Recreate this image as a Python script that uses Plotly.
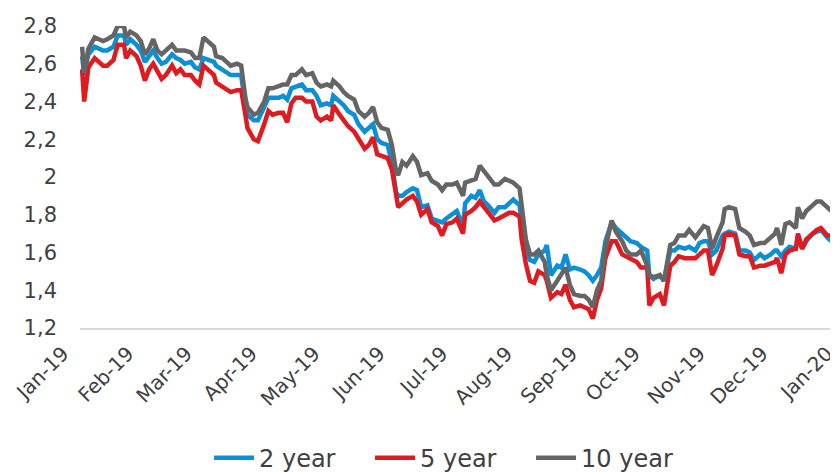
import plotly.graph_objects as go

# values (yield, %)
dates = [
    "2019-01-02", "2019-01-03", "2019-01-05", "2019-01-08", "2019-01-10", "2019-01-12", "2019-01-14",
    "2019-01-17", "2019-01-19", "2019-01-22", "2019-01-23", "2019-01-25", "2019-01-28", "2019-01-30",
    "2019-02-01", "2019-02-03", "2019-02-05", "2019-02-07", "2019-02-09", "2019-02-11", "2019-02-14",
    "2019-02-16", "2019-02-18", "2019-02-20", "2019-02-23", "2019-02-25", "2019-02-27",
    "2019-03-01", "2019-03-03", "2019-03-06", "2019-03-07", "2019-03-10", "2019-03-12", "2019-03-14",
    "2019-03-17", "2019-03-19", "2019-03-21", "2019-03-22", "2019-03-25", "2019-03-27", "2019-03-30",
    "2019-04-01", "2019-04-03", "2019-04-06", "2019-04-08", "2019-04-10", "2019-04-12", "2019-04-14",
    "2019-04-17", "2019-04-19", "2019-04-22", "2019-04-24", "2019-04-26", "2019-04-29",
    "2019-05-01", "2019-05-02", "2019-05-05", "2019-05-07", "2019-05-09", "2019-05-12", "2019-05-14",
    "2019-05-17", "2019-05-19", "2019-05-21", "2019-05-23", "2019-05-25", "2019-05-28", "2019-05-30",
    "2019-06-01", "2019-06-02", "2019-06-04", "2019-06-06", "2019-06-09", "2019-06-11", "2019-06-13",
    "2019-06-16", "2019-06-18", "2019-06-21", "2019-06-23", "2019-06-25", "2019-06-28", "2019-06-30",
    "2019-07-03", "2019-07-04", "2019-07-07", "2019-07-09", "2019-07-11", "2019-07-13", "2019-07-15",
    "2019-07-18", "2019-07-20", "2019-07-23", "2019-07-25", "2019-07-27", "2019-07-30", "2019-07-31",
    "2019-08-02", "2019-08-04", "2019-08-06", "2019-08-08", "2019-08-11", "2019-08-12", "2019-08-14",
    "2019-08-17", "2019-08-19", "2019-08-21", "2019-08-23", "2019-08-25", "2019-08-28", "2019-08-30",
    "2019-09-01", "2019-09-03", "2019-09-05", "2019-09-07", "2019-09-09", "2019-09-12", "2019-09-14",
    "2019-09-17", "2019-09-19", "2019-09-21", "2019-09-24", "2019-09-26", "2019-09-29", "2019-09-30",
    "2019-10-02", "2019-10-05", "2019-10-07", "2019-10-10", "2019-10-12", "2019-10-14", "2019-10-17",
    "2019-10-19", "2019-10-22", "2019-10-24", "2019-10-26", "2019-10-28", "2019-10-30",
    "2019-11-01", "2019-11-04", "2019-11-05", "2019-11-07", "2019-11-10", "2019-11-12", "2019-11-15",
    "2019-11-17", "2019-11-19", "2019-11-22", "2019-11-24", "2019-11-27", "2019-11-29", "2019-11-30",
    "2019-12-02", "2019-12-04", "2019-12-06", "2019-12-09", "2019-12-10", "2019-12-12", "2019-12-14",
    "2019-12-17", "2019-12-19", "2019-12-21", "2019-12-24", "2019-12-26", "2019-12-28", "2019-12-29",
    "2019-12-30", "2019-12-31",
]

y2 = [
    2.64, 2.54, 2.65, 2.69, 2.68, 2.67, 2.67, 2.69, 2.75, 2.75, 2.70, 2.73, 2.70, 2.67,
    2.61, 2.64, 2.67, 2.63, 2.60, 2.61, 2.65, 2.63, 2.62, 2.60, 2.61, 2.58, 2.57,
    2.63, 2.62, 2.61, 2.59, 2.57, 2.55, 2.54, 2.54, 2.54, 2.38, 2.33, 2.30, 2.30, 2.37,
    2.42, 2.42, 2.42, 2.43, 2.41, 2.47, 2.48, 2.49, 2.46, 2.46, 2.43, 2.38, 2.39,
    2.38, 2.43, 2.40, 2.38, 2.35, 2.33, 2.28, 2.24, 2.26, 2.28, 2.20, 2.18, 2.17, 2.07,
    1.92, 1.90, 1.90, 1.92, 1.94, 1.93, 1.84, 1.85, 1.78, 1.77, 1.76, 1.78, 1.80, 1.82,
    1.74, 1.86, 1.90, 1.89, 1.93, 1.87, 1.85, 1.81, 1.84, 1.84, 1.86, 1.88, 1.85, 1.74,
    1.61, 1.56, 1.55, 1.59, 1.61, 1.64, 1.48, 1.53, 1.52, 1.59, 1.51, 1.52, 1.51, 1.50,
    1.48, 1.45, 1.48, 1.52, 1.66, 1.76, 1.73, 1.70, 1.68, 1.66, 1.65, 1.63, 1.61, 1.48,
    1.46, 1.48, 1.45, 1.61, 1.61, 1.63, 1.62, 1.63, 1.61, 1.65, 1.66, 1.66, 1.59,
    1.61, 1.69, 1.70, 1.71, 1.70, 1.61, 1.61, 1.60, 1.56, 1.59, 1.57, 1.59, 1.61, 1.61,
    1.58, 1.61, 1.63, 1.62, 1.69, 1.62, 1.66, 1.70, 1.71, 1.72, 1.68, 1.66, 1.67, 1.71,
    1.62, 1.60,
]

y5 = [
    2.57, 2.40, 2.58, 2.63, 2.61, 2.59, 2.59, 2.62, 2.70, 2.70, 2.63, 2.67, 2.64, 2.59,
    2.51, 2.57, 2.60, 2.56, 2.52, 2.54, 2.59, 2.55, 2.57, 2.54, 2.54, 2.51, 2.49,
    2.59, 2.57, 2.54, 2.50, 2.48, 2.47, 2.45, 2.46, 2.46, 2.33, 2.26, 2.20, 2.19, 2.28,
    2.35, 2.33, 2.34, 2.34, 2.29, 2.39, 2.42, 2.42, 2.40, 2.40, 2.32, 2.30, 2.32,
    2.30, 2.38, 2.33, 2.30, 2.27, 2.24, 2.20, 2.15, 2.17, 2.21, 2.12, 2.11, 2.10, 2.04,
    1.89, 1.84, 1.86, 1.88, 1.90, 1.87, 1.80, 1.83, 1.76, 1.74, 1.69, 1.75, 1.76, 1.78,
    1.70, 1.80, 1.82, 1.84, 1.87, 1.84, 1.82, 1.77, 1.78, 1.80, 1.81, 1.81, 1.79, 1.67,
    1.54, 1.45, 1.44, 1.50, 1.48, 1.45, 1.36, 1.39, 1.38, 1.43, 1.35, 1.31, 1.32, 1.31,
    1.30, 1.25, 1.35, 1.41, 1.57, 1.66, 1.66, 1.59, 1.58, 1.57, 1.55, 1.52, 1.52, 1.32,
    1.36, 1.38, 1.32, 1.53, 1.55, 1.58, 1.57, 1.57, 1.57, 1.59, 1.61, 1.61, 1.48,
    1.53, 1.62, 1.69, 1.70, 1.69, 1.59, 1.58, 1.58, 1.52, 1.53, 1.53, 1.54, 1.55, 1.57,
    1.49, 1.59, 1.61, 1.62, 1.70, 1.62, 1.67, 1.70, 1.72, 1.73, 1.69, 1.69, 1.69, 1.72,
    1.61, 1.59,
]

y10 = [
    2.69, 2.55, 2.68, 2.74, 2.73, 2.72, 2.73, 2.75, 2.80, 2.80, 2.74, 2.77, 2.75, 2.72,
    2.65, 2.68, 2.73, 2.67, 2.65, 2.67, 2.70, 2.67, 2.67, 2.67, 2.66, 2.63, 2.63,
    2.74, 2.72, 2.69, 2.64, 2.63, 2.61, 2.59, 2.60, 2.59, 2.42, 2.37, 2.33, 2.34, 2.40,
    2.47, 2.47, 2.48, 2.49, 2.49, 2.54, 2.54, 2.57, 2.54, 2.55, 2.50, 2.48, 2.49,
    2.48, 2.51, 2.48, 2.45, 2.43, 2.41, 2.35, 2.32, 2.34, 2.37, 2.29, 2.26, 2.25, 2.17,
    2.03, 2.01, 2.08, 2.06, 2.11, 2.08, 2.01, 2.02, 1.98, 1.96, 1.93, 1.96, 1.96, 1.97,
    1.90, 1.97, 1.98, 1.99, 2.06, 2.03, 2.01, 1.96, 1.96, 1.99, 1.98, 1.97, 1.94, 1.84,
    1.67, 1.59, 1.59, 1.61, 1.55, 1.48, 1.40, 1.45, 1.48, 1.52, 1.43, 1.38, 1.37, 1.37,
    1.35, 1.31, 1.40, 1.45, 1.62, 1.77, 1.71, 1.66, 1.61, 1.59, 1.59, 1.61, 1.53, 1.48,
    1.47, 1.48, 1.45, 1.64, 1.65, 1.69, 1.69, 1.72, 1.68, 1.71, 1.74, 1.73, 1.62,
    1.68, 1.76, 1.83, 1.84, 1.83, 1.73, 1.71, 1.69, 1.64, 1.65, 1.65, 1.68, 1.70, 1.73,
    1.64, 1.75, 1.76, 1.73, 1.84, 1.78, 1.82, 1.85, 1.87, 1.87, 1.84, 1.82, 1.83, 1.88,
    1.75, 1.74,
]

month_ticks = ["2019-%02d-01" % m for m in range(1, 13)] + ["2020-01-01"]
month_labels = ["Jan-19", "Feb-19", "Mar-19", "Apr-19", "May-19", "Jun-19", "Jul-19",
                "Aug-19", "Sep-19", "Oct-19", "Nov-19", "Dec-19", "Jan-20"]

FONT = "DejaVu Sans"
TXT = "#404040"

fig = go.Figure()
fig.add_trace(go.Scatter(x=dates, y=y2, name="2 year", mode="lines",
                         line=dict(color="#0b8fd6", width=4.5), cliponaxis=False))
fig.add_trace(go.Scatter(x=dates, y=y5, name="5 year", mode="lines",
                         line=dict(color="#df1b22", width=4.5), cliponaxis=False))
fig.add_trace(go.Scatter(x=dates, y=y10, name="10 year", mode="lines",
                         line=dict(color="#656565", width=4.5), cliponaxis=False))

fig.update_layout(
    width=838, height=475,
    margin=dict(l=72, r=2, t=18, b=155),
    plot_bgcolor="white", paper_bgcolor="white",
    separators=",.",
    font=dict(family=FONT, size=20, color=TXT),
    showlegend=True,
    legend=dict(orientation="h", x=0.485, xanchor="center", yref="container", y=0.005,
                yanchor="bottom", font=dict(size=24, color=TXT), itemwidth=40,
                entrywidth=106, traceorder="normal"),
    xaxis=dict(type="date", range=["2019-01-01", "2020-01-01"],
               tickvals=month_ticks, ticktext=month_labels, tickangle=-45,
               showgrid=False, zeroline=False, showline=True, linecolor="#d9d9d9",
               linewidth=2, ticks="", ticklabelstandoff=4, ticklabelshift=-17,
               ticklabeloverflow="allow", tickfont=dict(size=20, color=TXT)),
    yaxis=dict(range=[1.2, 2.8], dtick=0.2, tick0=1.2, showgrid=False, zeroline=False,
               showline=False, ticks="", ticklabelstandoff=22,
               tickfont=dict(size=21, color=TXT)),
)

fig.write_html("out.html")
